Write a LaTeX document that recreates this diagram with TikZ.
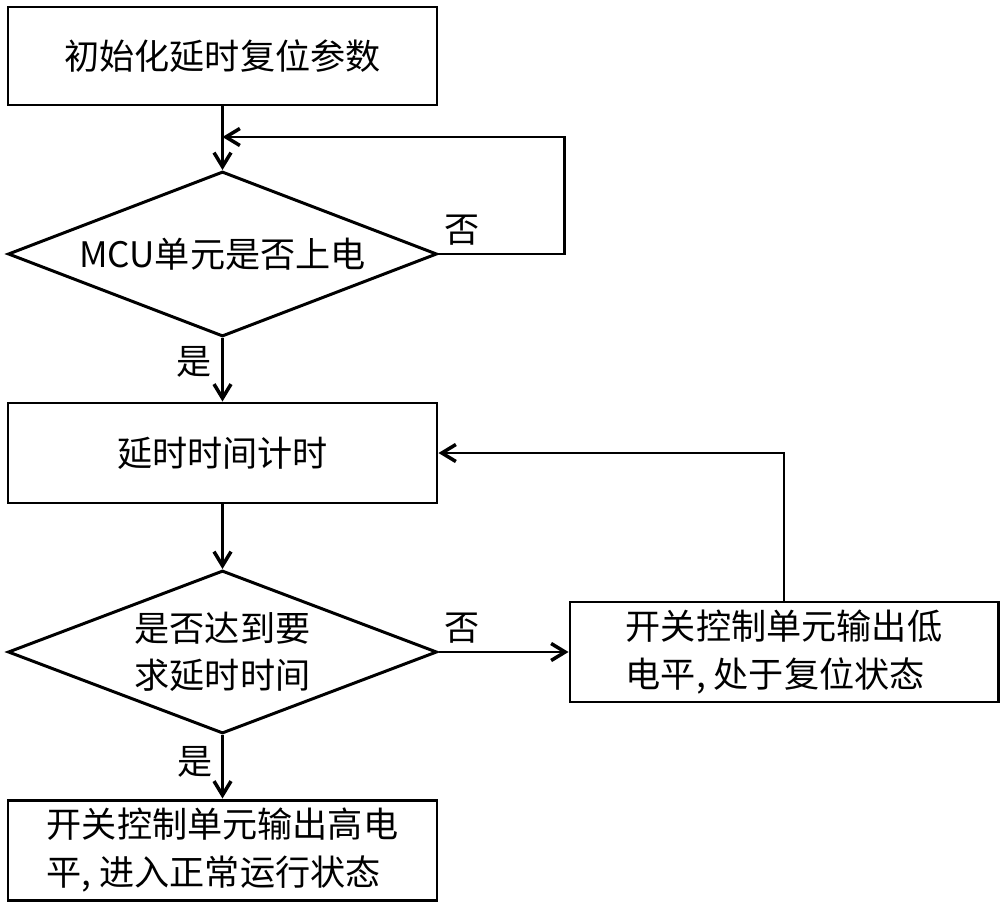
\documentclass[tikz,border=0pt]{standalone}
\usepackage{fontspec}
\usetikzlibrary{shapes.geometric,arrows.meta}
\newfontfamily\cjk{Noto Sans CJK SC}

\begin{document}
\begin{tikzpicture}[
            box/.style={draw, line width=1.7pt, minimum width=8.58cm, minimum height=2cm, align=left},
            decision/.style={draw, diamond, line width=1.7pt, aspect=2.6, inner sep=0pt, minimum width=8.58cm, align=center},
            flow/.style={line width=1.4pt, -{Straight Barb[length=2.8mm, width=3.4mm, line width=2pt]}},
            loop/.style={flow, line width=1.2pt},
            lbl/.style={inner sep=0pt},
            font=\cjk\fontsize{20}{27}\selectfont,
        ]
            \useasboundingbox (0, 0) rectangle (20, -18.1);
            \node[box, minimum height=1.96cm] (init) at (4.45, -1.12) {初始化延时复位参数};
            \node[decision, minimum height=3.3cm] (power) at (4.45, -5.08) {MCU单元是否上电};
            \node[box] (timing) at (4.45, -9.06) {延时时间计时};
            \node[decision, minimum height=3.26cm] (reached) at (4.45, -13.04) {是否达到要\\求延时时间};
            \node[box, minimum width=8.56cm] (low) at (15.68, -13.04) {开关控制单元输出低\\电平, 处于复位状态};
            \node[box] (high) at (4.45, -17) {开关控制单元输出高电\\平, 进入正常运行状态};
            \coordinate (join) at (4.45, -2.74);
            \draw[flow] (init) -- (power);
            \draw[loop] (power.east) -- ++(2.52, 0) |- (join);
            \draw[flow] (power) -- (timing);
            \draw[flow] (timing) -- (reached);
            \draw[flow] (reached) -- (low);
            \draw[loop] (low.north) |- (timing.east);
            \draw[flow] (reached) -- (high);
            \node[lbl] (no1) at (9.24, -4.6) {否};
            \node[lbl] (yes1) at (3.88, -7.24) {是};
            \node[lbl] (no2) at (9.24, -12.56) {否};
            \node[lbl] (yes2) at (3.9, -15.24) {是};
        \end{tikzpicture}
\end{document}
